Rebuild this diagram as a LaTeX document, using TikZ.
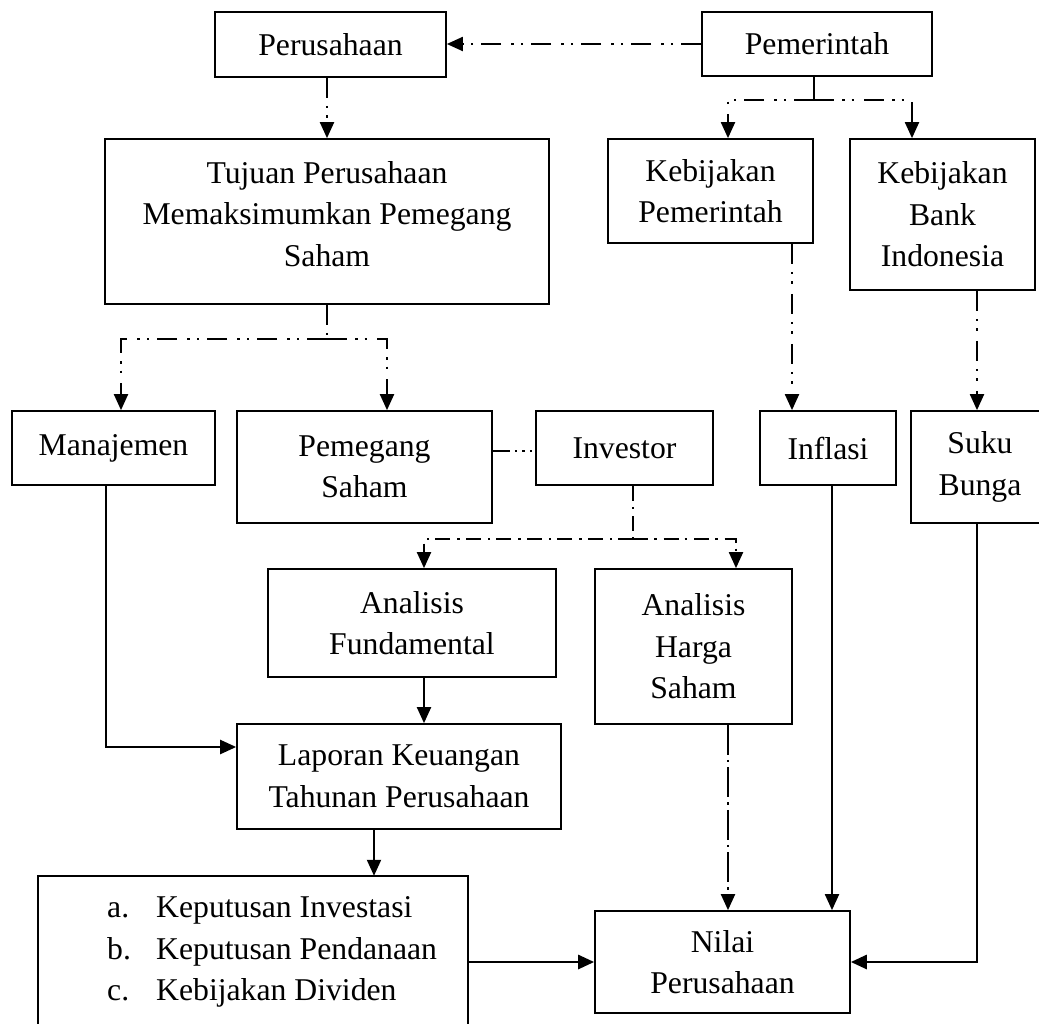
\documentclass[tikz,border=0pt]{standalone}
\usepackage{fontspec}
\setmainfont{Liberation Serif}
\usetikzlibrary{arrows.meta}
\begin{document}
\begin{tikzpicture}[x=1pt,y=-1pt,
  txt/.style={font=\fontsize{31.7}{41.5}\selectfont, inner sep=0pt, align=center},
  box/.style={txt, draw, line width=1.7pt},
  conn/.style={line width=2pt},
  heavy/.style={line width=2.8pt},
  arr/.style={-{Triangle[length=16pt,width=14pt]}},
  dashdd/.style={dash pattern=on 20pt off 8pt on 2.5pt off 7pt on 2.5pt off 10pt},
  dashd/.style={dash pattern=on 15pt off 6pt on 2.5pt off 7pt},
  dashlong/.style={dash pattern=on 30pt off 5pt on 2.5pt off 5pt},
  dotline/.style={dash pattern=on 17pt off 5pt on 2.5pt off 5pt on 2.5pt off 5pt on 2.5pt off 20pt}
]
\useasboundingbox (0,0) rectangle (1039,1023);

% boxes
\node[box, minimum width=231pt, minimum height=65pt] (per) at (330.5,44.5) {Perusahaan};
\node[box, minimum width=230pt, minimum height=64pt] (pem) at (817,44) {Pemerintah};
\node[box, minimum width=444pt, minimum height=165pt] (tuj) at (327,221.5) {};
\node[txt] (tujT) at (327,214) {Tujuan Perusahaan\\Memaksimumkan Pemegang\\Saham};
\node[box, minimum width=205pt, minimum height=104pt] (kp) at (710.5,191) {Kebijakan\\Pemerintah};
\node[box, minimum width=185pt, minimum height=151pt] (bi) at (942.5,214.5) {Kebijakan\\Bank\\Indonesia};
\node[box, minimum width=203pt, minimum height=74pt] (man) at (113.5,448) {Manajemen};
\node[box, minimum width=255pt, minimum height=112pt] (pms) at (364.5,467) {Pemegang\\Saham};
\node[box, minimum width=177pt, minimum height=74pt] (inv) at (624.5,448) {Investor};
\node[box, minimum width=136pt, minimum height=74pt] (inf) at (828,448) {Inflasi};
\node[box, minimum width=138pt, minimum height=112pt] (sb) at (980,467) {Suku\\Bunga};
\node[box, minimum width=288pt, minimum height=108pt] (fund) at (412,623) {Analisis\\Fundamental};
\node[box, minimum width=197pt, minimum height=155pt] (harga) at (693.5,646.5) {Analisis\\Harga\\Saham};
\node[box, minimum width=324pt, minimum height=105pt] (lap) at (399,776.5) {Laporan Keuangan\\Tahunan Perusahaan};
\node[box, minimum width=255pt, minimum height=102pt] (nil) at (722.5,962) {Nilai\\Perusahaan};

% open-bottom decision box
\node[draw=none, minimum width=430pt, minimum height=160pt, inner sep=0pt] (dec) at (253,956) {};
\draw[line width=1.7pt] (dec.south west) -- (dec.north west) -- (dec.north east) -- (dec.south east);
\node[txt, anchor=base west] (la) at (107,917) {a.};
\node[txt, anchor=base west] (ta) at (156,917) {Keputusan Investasi};
\node[txt, anchor=base west] (lb) at (107,959) {b.};
\node[txt, anchor=base west] (tb) at (156,959) {Keputusan Pendanaan};
\node[txt, anchor=base west] (lc) at (107,1000) {c.};
\node[txt, anchor=base west] (tc) at (156,1000) {Kebijakan Dividen};

% helper coordinates
\coordinate (x327) at (327,0);
\coordinate (x374) at (374,0);
\coordinate (x424) at (424,0);
\coordinate (x106) at (106,0);
\coordinate (x728) at (728,0);
\coordinate (x792) at (792,0);
\coordinate (x832) at (832,0);
\coordinate (x977) at (977,0);
\coordinate (y451) at (0,451);
\coordinate (y747) at (0,747);
\coordinate (pb) at (814,100);
\coordinate (tb2) at (327,339);
\coordinate (ib) at (633,539);

% connectors
\draw[conn, dashdd, arr] (pem.west) -- (per.east |- pem.west);
\draw[conn, dashdd, arr] (per.south -| x327) -- (tuj.north -| x327);
\draw[conn] (pem.south -| pb) -- (pb);
\draw[conn, dashdd, arr] (pb) -| ([xshift=17.5pt]kp.north);
\draw[conn, dashdd, arr] (pb) -| ([xshift=-30.5pt]bi.north);
\draw[conn, dashdd] (tuj.south -| tb2) -- (tb2);
\draw[conn, dashdd, arr] (tb2) -| ([xshift=7.5pt]man.north);
\draw[conn, dashdd, arr] (tb2) -| ([xshift=22.5pt]pms.north);
\draw[conn, dashdd, arr] (kp.south -| x792) -- (inf.north -| x792);
\draw[conn, dashdd, arr] (bi.south -| x977) -- (sb.north -| x977);
\draw[conn, dotline] (pms.east |- y451) -- (inv.west |- y451);
\draw[conn, dashd] (inv.south -| ib) -- (ib);
\draw[conn, dashd, arr] (ib) -| ([xshift=12pt]fund.north);
\draw[conn, dashd, arr] (ib) -| ([xshift=42.5pt]harga.north);
\draw[conn, line width=2.4pt, arr] (man.south -| x106) |- (lap.west |- y747);
\draw[conn, arr] (fund.south -| x424) -- (lap.north -| x424);
\draw[conn, arr] (lap.south -| x374) -- (dec.north -| x374);
\draw[heavy, arr] (dec.east |- nil.west) -- (nil.west);
\draw[conn, dashlong, arr] (harga.south -| x728) -- (nil.north -| x728);
\draw[conn, arr] (inf.south -| x832) -- (nil.north -| x832);
\draw[heavy, arr] (sb.south -| x977) |- (nil.east);
\end{tikzpicture}
\end{document}
